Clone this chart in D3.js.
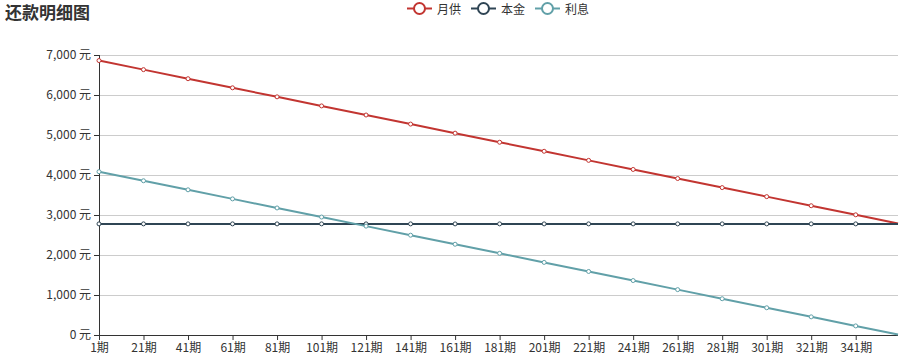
<!DOCTYPE html>
<html>
<head>
<meta charset="utf-8">
<script src="https://cdn.jsdelivr.net/npm/d3@7"></script>
<style>
  body { margin: 0; background: #fff; }
  svg text { font-family: "Noto Sans CJK SC", "Noto Sans", sans-serif; }
</style>
</head>
<body>
<div class="chart"></div>
<script>
// periods where values were read (markers sit on every 20th period, line ends at 360)
var periods = [1, 21, 41, 61, 81, 101, 121, 141, 161, 181, 201, 221, 241, 261, 281, 301, 321, 341, 360];
var payment = [6861, 6634, 6407, 6180, 5954, 5727, 5500, 5273, 5046, 4819, 4593, 4366, 4139, 3912, 3685, 3459, 3232, 3005, 2789];
var principal = [2778, 2778, 2778, 2778, 2778, 2778, 2778, 2778, 2778, 2778, 2778, 2778, 2778, 2778, 2778, 2778, 2778, 2778, 2778];
var interest = [4083, 3856, 3630, 3403, 3176, 2949, 2722, 2495, 2269, 2042, 1815, 1588, 1361, 1134, 907, 681, 454, 227, 11];
var tickPeriods = [1, 21, 41, 61, 81, 101, 121, 141, 161, 181, 201, 221, 241, 261, 281, 301, 321, 341];
var yTicks = [0, 1000, 2000, 3000, 4000, 5000, 6000, 7000];
var seriesNames = ["月供", "本金", "利息"];
var seriesColors = ["#c23531", "#2f4554", "#61a0a8"];

var width = 912, height = 355;
var margin = {top: 55, left: 99, right: 14, bottom: 20};

var svg = d3.select(".chart").append("svg")
    .attr("width", width)
    .attr("height", height);

var x = d3.scaleLinear().domain([1, 360]).range([margin.left, width - margin.right]);
var y = d3.scaleLinear().domain([0, 7000]).range([height - margin.bottom, margin.top]);

// title
svg.append("text")
    .attr("x", 5).attr("y", 18.5)
    .style("font-size", "17px").style("font-weight", "bold")
    .attr("fill", "#333")
    .text("还款明细图");

// grid
svg.append("g").selectAll("line")
    .data(yTicks.slice(1))
    .enter().append("line")
    .attr("x1", x(1)).attr("x2", x(360))
    .attr("y1", function(d) { return y(d); })
    .attr("y2", function(d) { return y(d); })
    .attr("stroke", "#ccc").attr("stroke-width", 1)
    .attr("shape-rendering", "crispEdges");

// y axis
var yAxis = svg.append("g")
    .attr("transform", "translate(" + margin.left + ",0)")
    .call(d3.axisLeft(y).tickValues(yTicks).tickSize(5).tickPadding(3)
        .tickFormat(function(d) { return d3.format(",")(d) + " 元"; }));

// x axis
var xAxis = svg.append("g")
    .attr("transform", "translate(0," + y(0) + ")")
    .call(d3.axisBottom(x).tickValues(tickPeriods).tickSize(5).tickPadding(3)
        .tickFormat(function(d) { return d + "期"; }));

[yAxis, xAxis].forEach(function(a) {
    a.select(".domain").attr("stroke", "#333").attr("d", null);
    a.selectAll(".tick line").attr("stroke", "#333");
    a.selectAll(".tick text").attr("fill", "#333").style("font-size", "12px");
});
yAxis.select(".domain").attr("d", "M0.5," + y(7000) + "V" + y(0));
xAxis.select(".domain").attr("d", "M" + x(1) + ",0.5H" + x(360));

// lines
var allSeries = [payment, principal, interest];
var line = d3.line()
    .x(function(d, i) { return x(periods[i]); })
    .y(function(d) { return y(d); });

allSeries.forEach(function(vals, k) {
    svg.append("path")
        .datum(vals)
        .attr("fill", "none")
        .attr("stroke", seriesColors[k])
        .attr("stroke-width", 2)
        .attr("d", line);

    svg.append("g").selectAll("circle")
        .data(vals.filter(function(v, i) { return tickPeriods.indexOf(periods[i]) >= 0; }))
        .enter().append("circle")
        .attr("cx", function(d, i) { return x(tickPeriods[i]); })
        .attr("cy", function(d) { return y(d); })
        .attr("r", 2)
        .attr("fill", "#fff")
        .attr("stroke", seriesColors[k])
        .attr("stroke-width", 1);
});

// legend
var legendX = [407, 471, 535];
var legend = svg.append("g").selectAll("g")
    .data(seriesNames)
    .enter().append("g")
    .attr("transform", function(d, i) { return "translate(" + legendX[i] + ",8.5)"; });
legend.append("line")
    .attr("x1", 0).attr("x2", 25)
    .attr("stroke", function(d, i) { return seriesColors[i]; })
    .attr("stroke-width", 2);
legend.append("circle")
    .attr("cx", 12.5).attr("r", 5.5)
    .attr("fill", "#fff")
    .attr("stroke", function(d, i) { return seriesColors[i]; })
    .attr("stroke-width", 2);
legend.append("text")
    .attr("x", 30).attr("y", 5.5)
    .style("font-size", "12px")
    .attr("fill", "#333")
    .text(function(d) { return d; });
</script>
</body>
</html>
